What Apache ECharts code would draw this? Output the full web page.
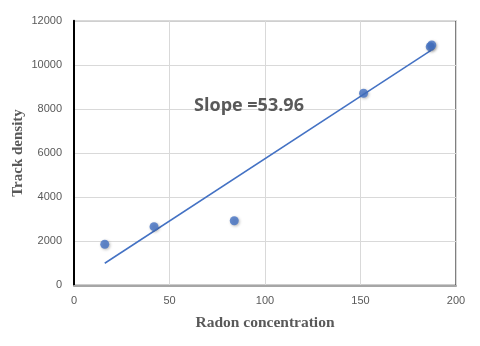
<!DOCTYPE html>
<html><head><meta charset="utf-8">
<script src="https://cdn.jsdelivr.net/npm/echarts@6/dist/echarts.min.js"></script>
<style>html,body{margin:0;padding:0;background:#fff}#c{width:480px;height:346px}</style>
</head><body><div id="c"></div>
<script>
const radon = [16.1, 41.9, 83.9, 151.6, 186.5, 187.3];
const track = [1860, 2660, 2930, 8710, 10820, 10900];
const trendX = [16.1, 186.9];
const trendY = [1000, 10650];
const xTicks = [0, 50, 100, 150, 200];
const yTicks = [0, 2000, 4000, 6000, 8000, 10000, 12000];
const slopeLabel = 'Slope =53.96';

const chart = echarts.init(document.getElementById('c'), null, {renderer: 'canvas'});
chart.setOption({
  animation: false,
  backgroundColor: '#fff',
  grid: {left: 74, right: 24, top: 20.7, bottom: 60.7, show: true, borderColor: '#000', borderWidth: 1,
    containLabel: false, outerBoundsMode: 'none'},
  title: {text: slopeLabel, left: 244, top: 92, textAlign: 'center',
    textStyle: {fontFamily: 'Open Sans', fontWeight: 'bold', fontSize: 18, color: '#595959'}},
  xAxis: {type: 'value', min: xTicks[0], max: xTicks[xTicks.length-1], interval: 50,
    name: 'Radon concentration', nameLocation: 'middle', nameGap: 30, nameMoveOverlap: false,
    nameTextStyle: {fontFamily: 'Liberation Serif', fontWeight: 'bold', fontSize: 15.5, color: '#595959'},
    axisLine: {show: true, lineStyle: {color: '#a6a6a6', width: 2}},
    axisTick: {show: false},
    axisLabel: {color: '#595959', fontSize: 11, fontFamily: 'Liberation Sans', margin: 10},
    splitLine: {lineStyle: {color: '#d9d9d9', width: 1}}},
  yAxis: {type: 'value', min: yTicks[0], max: yTicks[yTicks.length-1], interval: 2000,
    name: 'Track density', nameLocation: 'middle', nameGap: 48, nameMoveOverlap: false,
    nameTextStyle: {fontFamily: 'Liberation Serif', fontWeight: 'bold', fontSize: 15, color: '#595959'},
    axisLine: {show: true, lineStyle: {color: '#000', width: 2}},
    axisTick: {show: false},
    axisLabel: {color: '#595959', fontSize: 11, fontFamily: 'Liberation Sans', margin: 12,
      formatter: v => String(v)},
    splitLine: {lineStyle: {color: '#d9d9d9', width: 1}}},
  series: [
    {type: 'line', data: trendX.map((x, i) => [x, trendY[i]]), symbol: 'none',
      lineStyle: {color: '#4472c4', width: 1.5}, z: 2},
    {type: 'scatter', data: radon.map((x, i) => [x, track[i]]), symbolSize: 9,
      itemStyle: {color: '#4472c4', shadowColor: 'rgba(0,0,0,0.35)', shadowBlur: 3, shadowOffsetX: 1, shadowOffsetY: 1}, z: 3}
  ]
});
</script></body></html>
